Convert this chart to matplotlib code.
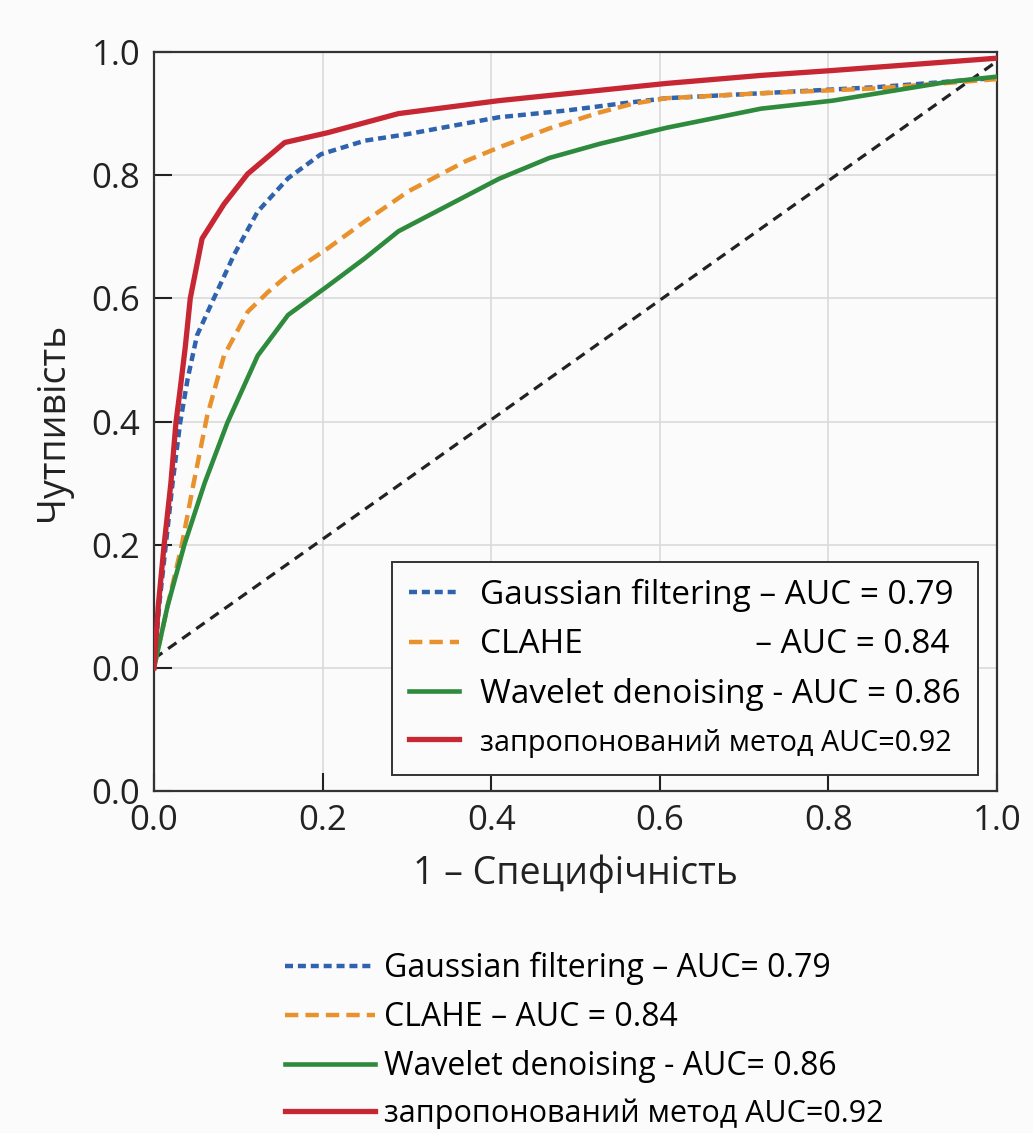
import numpy as np
import matplotlib.pyplot as plt

plt.rcParams['font.family'] = ['Open Sans', 'DejaVu Sans']

# ROC curves
red_x = [0, 0.005, 0.012, 0.02, 0.026, 0.031, 0.037, 0.043, 0.057, 0.083, 0.111, 0.155, 0.206, 0.29, 0.409, 0.608, 0.72, 0.805, 1.0]
red_y = [0, 0.1, 0.2, 0.3, 0.398, 0.452, 0.52, 0.6, 0.697, 0.753, 0.802, 0.853, 0.869, 0.9, 0.921, 0.949, 0.962, 0.97, 0.99]

blue_x = [0, 0.006, 0.014, 0.022, 0.031, 0.04, 0.051, 0.071, 0.095, 0.123, 0.159, 0.198, 0.25, 0.302, 0.409, 0.489, 0.552, 0.608, 0.72, 0.858, 1.0]
blue_y = [0, 0.1, 0.2, 0.3, 0.398, 0.47, 0.54, 0.6, 0.671, 0.741, 0.795, 0.834, 0.856, 0.867, 0.894, 0.905, 0.916, 0.925, 0.933, 0.943, 0.958]

orange_x = [0, 0.016, 0.033, 0.047, 0.063, 0.083, 0.111, 0.135, 0.159, 0.206, 0.25, 0.302, 0.37, 0.409, 0.469, 0.529, 0.568, 0.608, 0.72, 0.858, 1.0]
orange_y = [0, 0.1, 0.2, 0.3, 0.409, 0.507, 0.578, 0.61, 0.638, 0.681, 0.725, 0.774, 0.823, 0.845, 0.876, 0.902, 0.916, 0.925, 0.933, 0.941, 0.956]

green_x = [0, 0.016, 0.036, 0.06, 0.087, 0.123, 0.159, 0.206, 0.25, 0.29, 0.409, 0.469, 0.529, 0.608, 0.72, 0.805, 0.939, 1.0]
green_y = [0, 0.1, 0.2, 0.3, 0.398, 0.507, 0.573, 0.62, 0.665, 0.709, 0.794, 0.828, 0.851, 0.877, 0.908, 0.921, 0.951, 0.96]

diag_x = [0, 1]
diag_y = [0.015, 0.985]

labels_in = ["Gaussian filtering – AUC = 0.79",
             "CLAHE                    – AUC = 0.84",
             "Wavelet denoising - AUC = 0.86",
             "запропонований метод AUC=0.92"]
labels_out = ["Gaussian filtering – AUC= 0.79",
              "CLAHE – AUC = 0.84",
              "Wavelet denoising - AUC= 0.86",
              "запропонований метод AUC=0.92"]

yticks = [-0.2, 0.0, 0.2, 0.4, 0.6, 0.8, 1.0]
ytick_labels = ["0.0", "0.0", "0.2", "0.4", "0.6", "0.8", "1.0"]
xticks = [0.0, 0.2, 0.4, 0.6, 0.8, 1.0]
xtick_labels = ["0.0", "0.2", "0.4", "0.6", "0.8", "1.0"]

fig = plt.figure(figsize=(10.33, 11.33), dpi=100)
fig.patch.set_facecolor('#fbfbfb')
ax = fig.add_axes([0.1491, 0.3018, 0.8161, 0.6523])
ax.set_facecolor('#fbfbfb')

ax.plot(diag_x, diag_y, color='#222222', lw=2.3, dashes=(3.2, 2.2), zorder=2)
l_blue, = ax.plot(blue_x, blue_y, color='#2f63ad', lw=3.2, dashes=(1.8, 1.1), zorder=3)
l_orange, = ax.plot(orange_x, orange_y, color='#e8912d', lw=3.2, dashes=(3.0, 1.6), zorder=4)
l_green, = ax.plot(green_x, green_y, color='#2e8a3c', lw=3.3, zorder=5)
l_red, = ax.plot(red_x, red_y, color='#c62733', lw=3.8, zorder=6)
handles = [l_blue, l_orange, l_green, l_red]

ax.set_xlim(0, 1)
ax.set_ylim(-0.2, 1.0)
ax.set_xticks(xticks, xtick_labels)
ax.set_yticks(yticks, ytick_labels)
ax.tick_params(direction='in', length=13, width=1.5, labelsize=25, colors='#222222')
ax.tick_params(axis='x', pad=9)
ax.tick_params(axis='y', pad=10)
ax.grid(True, color='#dadada', lw=1.2)
for s in ax.spines.values():
    s.set_linewidth(1.6)
    s.set_color('#333333')

ax.set_xlabel("1 – Специфічність", fontsize=27, color='#222222', labelpad=12)
ax.set_ylabel("Чутпивість", fontsize=27, color='#222222', labelpad=14)

leg = ax.legend(handles, labels_in, loc='lower right', bbox_to_anchor=(0.977, 0.022),
                borderaxespad=0, fontsize=24, handlelength=1.5, handletextpad=0.65,
                labelspacing=0.5, borderpad=0.5, fancybox=False, framealpha=1)
leg.get_frame().set_edgecolor('#333333')
leg.get_frame().set_linewidth(1.4)
leg.get_frame().set_facecolor('#fbfbfb')
# the cyrillic entry is set a bit smaller in the original
leg.get_texts()[3].set_fontsize(20.7)

leg2 = fig.legend(handles, labels_out, loc='upper left', bbox_to_anchor=(0.276, 0.160),
                  frameon=False, fontsize=23, handlelength=2.8, handletextpad=0.3,
                  labelspacing=0.5, borderaxespad=0, borderpad=0)
leg2.get_texts()[3].set_fontsize(22)

fig.savefig('out.png', dpi=100, facecolor=fig.get_facecolor())
